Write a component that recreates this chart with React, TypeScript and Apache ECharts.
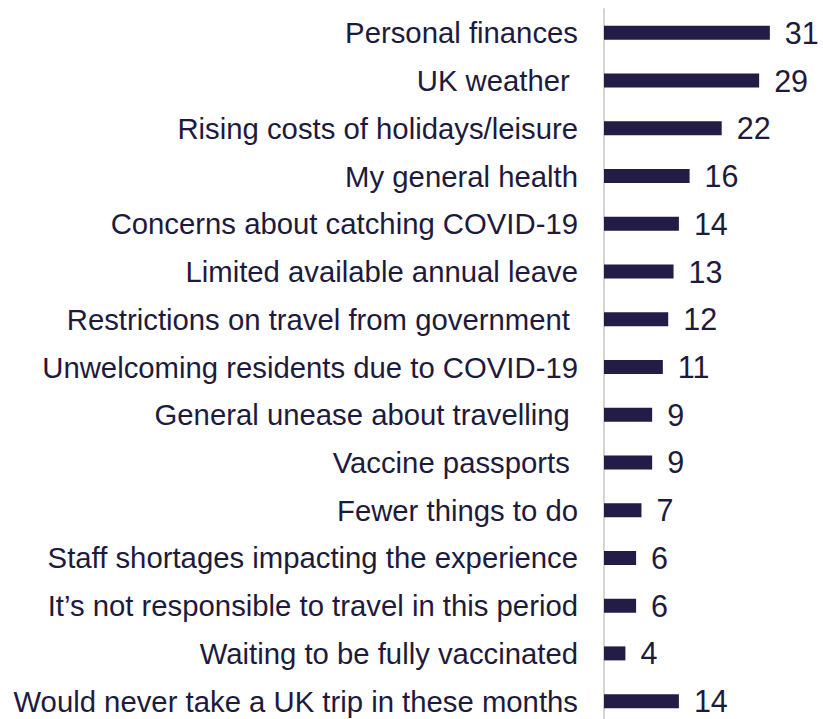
import React, { useEffect, useRef } from "react";
import * as echarts from "echarts";

const categories = [
  "Personal finances",
  "UK weather ",
  "Rising costs of holidays/leisure",
  "My general health",
  "Concerns about catching COVID-19",
  "Limited available annual leave",
  "Restrictions on travel from government ",
  "Unwelcoming residents due to COVID-19",
  "General unease about travelling ",
  "Vaccine passports ",
  "Fewer things to do",
  "Staff shortages impacting the experience",
  "It\u2019s not responsible to travel in this period",
  "Waiting to be fully vaccinated",
  "Would never take a UK trip in these months",
];

const values = [31, 29, 22, 16, 14, 13, 12, 11, 9, 9, 7, 6, 6, 4, 14];

const FONT = "'Liberation Sans', Arial, sans-serif";
const TEXT = "#1E1A3C";
const BAR = "#221C46";

export default function App() {
  const ref = useRef<HTMLDivElement>(null);
  useEffect(() => {
    if (!ref.current) return;
    const chart = echarts.init(ref.current, null, { renderer: "svg" });
    chart.setOption({
      animation: false,
      grid: { left: 604, right: 5, top: 9, bottom: 1, containLabel: false },
      xAxis: {
        type: "value",
        min: 0,
        max: 40,
        show: false,
      },
      yAxis: {
        type: "category",
        data: categories,
        inverse: true,
        axisLine: { show: true, lineStyle: { color: "#D4D4D4", width: 2 } },
        axisTick: { show: false },
        axisLabel: {
          color: TEXT,
          fontSize: 29.3,
          fontFamily: FONT,
          margin: 26,
        },
      },
      series: [
        {
          type: "bar",
          data: values,
          barWidth: 14,
          itemStyle: { color: BAR },
          label: {
            show: true,
            position: "right",
            distance: 15,
            color: TEXT,
            fontSize: 30.5,
            fontFamily: FONT,
          },
        },
      ],
    });
    return () => chart.dispose();
  }, []);
  return (
    <div style={{ position: "absolute", left: 0, top: 0, width: 823, height: 719, overflow: "hidden" }}>
      <div ref={ref} style={{ width: 823, height: 726 }} />
    </div>
  );
}
